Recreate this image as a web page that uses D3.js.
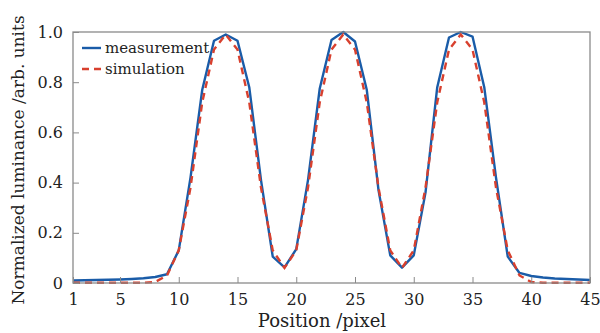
<!DOCTYPE html>
<html><head><meta charset="utf-8">
<script src="https://cdn.jsdelivr.net/npm/d3@7"></script>
<style>body{margin:0;background:#fff}svg{display:block}</style>
</head><body>
<svg id="c" width="600" height="333"></svg>
<script>
const positions = d3.range(1, 46);
const measurement = [0.010,0.011,0.012,0.013,0.014,0.016,0.019,0.024,0.035,0.13,
  0.42,0.77,0.965,0.99,0.965,0.78,0.41,0.105,0.062,0.135,
  0.41,0.775,0.968,1.0,0.962,0.77,0.37,0.11,0.061,0.11,
  0.36,0.78,0.978,1.0,0.982,0.78,0.42,0.105,0.04,0.028,
  0.022,0.018,0.016,0.014,0.012];
const simulation = [0.001,0.001,0.001,0.001,0.001,0.001,0.001,0.004,0.03,0.13,
  0.38,0.72,0.93,0.99,0.93,0.72,0.38,0.13,0.06,0.13,
  0.38,0.72,0.93,0.99,0.93,0.72,0.38,0.13,0.06,0.13,
  0.38,0.72,0.93,0.99,0.93,0.72,0.38,0.13,0.03,0.004,
  0.001,0.001,0.001,0.001,0.001];
const xTicks = [1,5,10,15,20,25,30,35,40,45];
const yTicks = [0,0.2,0.4,0.6,0.8,1.0];
const seriesNames = ["measurement","simulation"];

const svg = d3.select("#c");
const L=73, R=590, T=32, B=283;
const x = d3.scaleLinear().domain([1,45]).range([L,R]);
const y = d3.scaleLinear().domain([0,1]).range([B,T]);
const font = "'DejaVu Serif', serif";
const frame = "#8a8a8a";

// lines
const line = d3.line().x((d,i)=>x(positions[i])).y(d=>y(d));
svg.append("path").datum(measurement).attr("d",line)
  .attr("fill","none").attr("stroke","#1a5ca8").attr("stroke-width",2.4).attr("stroke-linejoin","round");
svg.append("path").datum(simulation).attr("d",line)
  .attr("fill","none").attr("stroke","#d8402e").attr("stroke-width",2.4).attr("stroke-dasharray","7,5");

// frame
svg.append("rect").attr("x",L).attr("y",T).attr("width",R-L).attr("height",B-T)
  .attr("fill","none").attr("stroke",frame).attr("stroke-width",1.3);

// x axis
const xa = svg.append("g").attr("transform",`translate(0,${B})`)
  .call(d3.axisBottom(x).tickValues(xTicks).tickSize(-6).tickPadding(11).tickFormat(d3.format("d")));
xa.select(".domain").remove();
xa.selectAll("line").attr("stroke",frame);
xa.selectAll("text").attr("font-family",font).attr("font-size",16).attr("fill","#222");

const ya = svg.append("g").attr("transform",`translate(${L},0)`)
  .call(d3.axisLeft(y).tickValues(yTicks).tickSize(-6).tickPadding(10).tickFormat(d=>d===0?"0":d3.format(".1f")(d)));
ya.select(".domain").remove();
ya.selectAll("line").attr("stroke",frame);
ya.selectAll("text").attr("font-family",font).attr("font-size",16).attr("fill","#222");

// labels
svg.append("text").attr("x",322).attr("y",327).attr("text-anchor","middle")
  .attr("font-family",font).attr("font-size",18).attr("fill","#222").text("Position /pixel");
svg.append("text").attr("transform","translate(24,160) rotate(-90)").attr("text-anchor","middle")
  .attr("font-family",font).attr("font-size",17).attr("fill","#222").text("Normalized luminance /arb. units");

// legend
const leg = svg.append("g");
seriesNames.forEach((n,i)=>{
  const yy = 48 + i*21;
  leg.append("line").attr("x1",82).attr("x2",101).attr("y1",yy).attr("y2",yy)
    .attr("stroke", i===0?"#1a5ca8":"#d8402e").attr("stroke-width",2.4)
    .attr("stroke-dasharray", i===0?null:"7,5");
  leg.append("text").attr("x",105).attr("y",yy+5).attr("font-family",font).attr("font-size",15)
    .attr("fill","#222").text(n);
});
</script>
</body></html>
